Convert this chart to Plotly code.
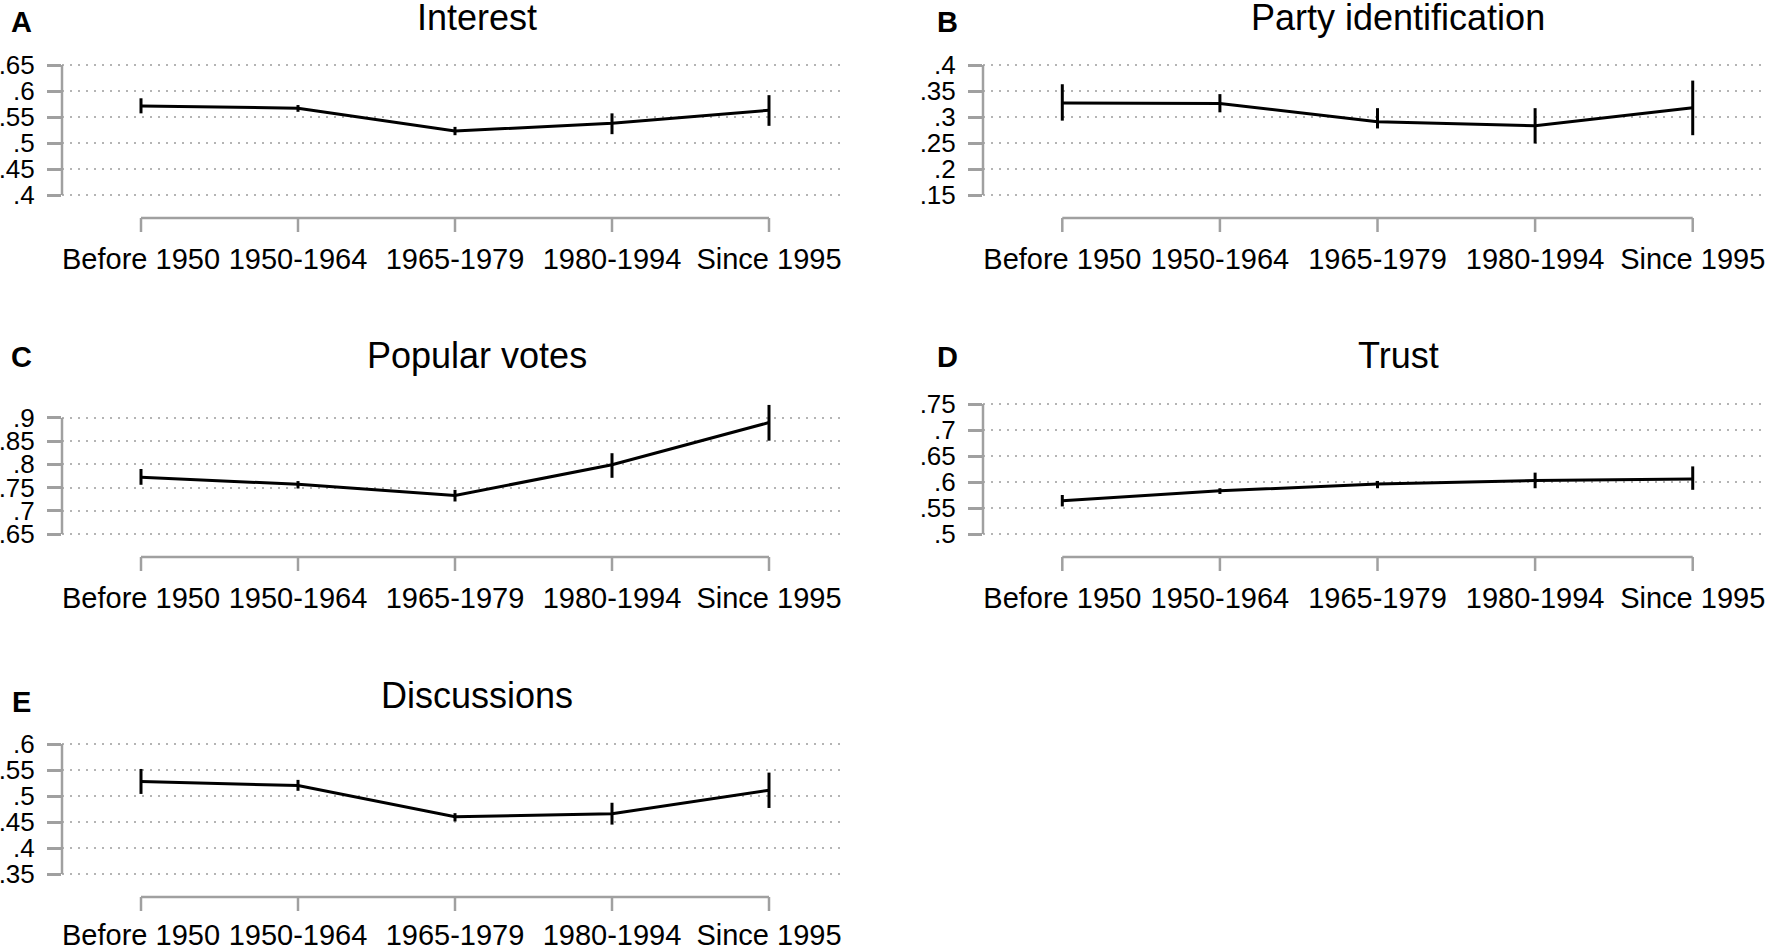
import plotly.graph_objects as go

W, H = 1772, 949

categories = ["Before 1950", "1950-1964", "1965-1979", "1980-1994", "Since 1995"]

interest_mean = [0.571, 0.567, 0.523, 0.538, 0.563]
interest_lo = [0.557, 0.560, 0.515, 0.517, 0.533]
interest_hi = [0.586, 0.573, 0.531, 0.557, 0.592]

party_mean = [0.327, 0.326, 0.291, 0.283, 0.318]
party_lo = [0.293, 0.309, 0.278, 0.249, 0.265]
party_hi = [0.363, 0.344, 0.317, 0.317, 0.370]

votes_mean = [0.772, 0.757, 0.733, 0.799, 0.890]
votes_lo = [0.756, 0.748, 0.720, 0.771, 0.851]
votes_hi = [0.790, 0.764, 0.745, 0.824, 0.928]

trust_mean = [0.564, 0.583, 0.596, 0.603, 0.606]
trust_lo = [0.553, 0.577, 0.588, 0.588, 0.585]
trust_hi = [0.575, 0.588, 0.602, 0.618, 0.630]

disc_mean = [0.528, 0.520, 0.460, 0.466, 0.511]
disc_lo = [0.504, 0.510, 0.451, 0.445, 0.477]
disc_hi = [0.552, 0.531, 0.467, 0.487, 0.545]

interest_ticks = [0.4, 0.45, 0.5, 0.55, 0.6, 0.65]
party_ticks = [0.15, 0.2, 0.25, 0.3, 0.35, 0.4]
votes_ticks = [0.65, 0.7, 0.75, 0.8, 0.85, 0.9]
trust_ticks = [0.5, 0.55, 0.6, 0.65, 0.7, 0.75]
disc_ticks = [0.35, 0.4, 0.45, 0.5, 0.55, 0.6]

titles = ["Interest", "Party identification", "Popular votes", "Trust", "Discussions"]
letters = ["A", "B", "C", "D", "E"]

panels = [
    (interest_mean, interest_lo, interest_hi, interest_ticks, [0.4, 0.65]),
    (party_mean, party_lo, party_hi, party_ticks, [0.15, 0.4]),
    (votes_mean, votes_lo, votes_hi, votes_ticks, [0.65, 0.93]),
    (trust_mean, trust_lo, trust_hi, trust_ticks, [0.5, 0.75]),
    (disc_mean, disc_lo, disc_hi, disc_ticks, [0.35, 0.6]),
]

# layout geometry (pixels)
col_x = [(62, 843), (983, 1767)]
row_y = [(65, 195), (404, 534), (744, 874)]
label_standoff = [41, 41, 38]
title_x = [477, 1398]
title_y = [17, 355, 695]
letter_x = [21, 947]
letter_y = [22, 357, 702]
PAD = 3          # extra pixels so edge grid lines are drawn
AX_GAP = 23      # gap between plot bottom and detached x axis line
TICK_LEN = 14

FONT = "Liberation Sans, Arial, Helvetica, sans-serif"
AXIS_GRAY = "#a0a0a0"
GRID_GRAY = "#b4b4b4"

fig = go.Figure()
shapes = []
annotations = []
layout = {}

def fmt(v):
    s = ("%.2f" % v).rstrip("0").rstrip(".")
    return s[1:] if s.startswith("0") else s

xs = list(range(len(categories)))

for i, (mean, lo, hi, ticks, yr) in enumerate(panels):
    r, c = divmod(i, 2)
    n = "" if i == 0 else str(i + 1)
    xa, ya = "x" + n, "y" + n
    x0p, x1p = col_x[c]
    y0p, y1p = row_y[r]
    unit = (yr[1] - yr[0]) / (y1p - y0p)
    dom_h = (y1p - y0p) + 2 * PAD
    fig.add_trace(go.Scatter(
        x=xs, y=mean, mode="lines", xaxis=xa, yaxis=ya,
        line=dict(color="black", width=3),
        error_y=dict(type="data", symmetric=False,
                     array=[h - m for h, m in zip(hi, mean)],
                     arrayminus=[m - l for m, l in zip(mean, lo)],
                     color="black", thickness=3, width=0),
        showlegend=False, hoverinfo="skip",
    ))
    layout["xaxis" + n] = dict(
        domain=[x0p / W, x1p / W], anchor=ya, automargin=False,
        range=[-(141 - 62) / 157.0, (843 - 141) / 157.0],
        tickvals=xs, ticktext=categories, ticks="",
        showgrid=False, zeroline=False, showline=False,
        tickfont=dict(family=FONT, size=29, color="black"),
        ticklabelstandoff=label_standoff[r],
    )
    layout["yaxis" + n] = dict(
        domain=[1 - (y1p + PAD) / H, 1 - (y0p - PAD) / H], anchor=xa, automargin=False,
        range=[yr[0] - PAD * unit, yr[1] + PAD * unit],
        tickvals=ticks, ticktext=[fmt(t) for t in ticks],
        ticks="outside", ticklen=TICK_LEN, tickwidth=2.5, tickcolor=AXIS_GRAY,
        showgrid=True, gridcolor=GRID_GRAY, gridwidth=2, griddash="2px,6px",
        zeroline=False, showline=False,
        tickfont=dict(family=FONT, size=26, color="black"),
        ticklabelstandoff=7,
    )
    # y axis line spanning the tick range
    shapes.append(dict(type="line", xref=xa + " domain", yref=ya,
                       x0=0, x1=0, y0=min(ticks), y1=max(ticks),
                       line=dict(color=AXIS_GRAY, width=2.5)))
    # detached x axis line with ticks
    y_line = -(AX_GAP - PAD) / dom_h
    y_tick = -(AX_GAP + TICK_LEN - PAD) / dom_h
    shapes.append(dict(type="line", xref=xa, yref=ya + " domain",
                       x0=xs[0], x1=xs[-1], y0=y_line, y1=y_line,
                       line=dict(color=AXIS_GRAY, width=2.5)))
    for xv in xs:
        shapes.append(dict(type="line", xref=xa, yref=ya + " domain",
                           x0=xv, x1=xv, y0=y_line, y1=y_tick,
                           line=dict(color=AXIS_GRAY, width=2.5)))
    annotations.append(dict(text=titles[i], xref="paper", yref="paper",
                            x=title_x[c] / W, y=1 - title_y[r] / H,
                            xanchor="center", yanchor="middle", showarrow=False,
                            font=dict(family=FONT, size=36, color="black")))
    annotations.append(dict(text="<b>%s</b>" % letters[i], xref="paper", yref="paper",
                            x=letter_x[c] / W, y=1 - letter_y[r] / H,
                            xanchor="center", yanchor="middle", showarrow=False,
                            font=dict(family=FONT, size=29, color="black")))

fig.update_layout(
    template="none",
    width=W, height=H,
    margin=dict(l=0, r=0, t=0, b=0, pad=0),
    paper_bgcolor="white", plot_bgcolor="white",
    shapes=shapes, annotations=annotations,
    **layout,
)

fig.write_html(
    "out.html",
    config={"displayModeBar": False},
    post_script="document.body.style.margin='0';document.body.style.overflow='hidden';",
)
